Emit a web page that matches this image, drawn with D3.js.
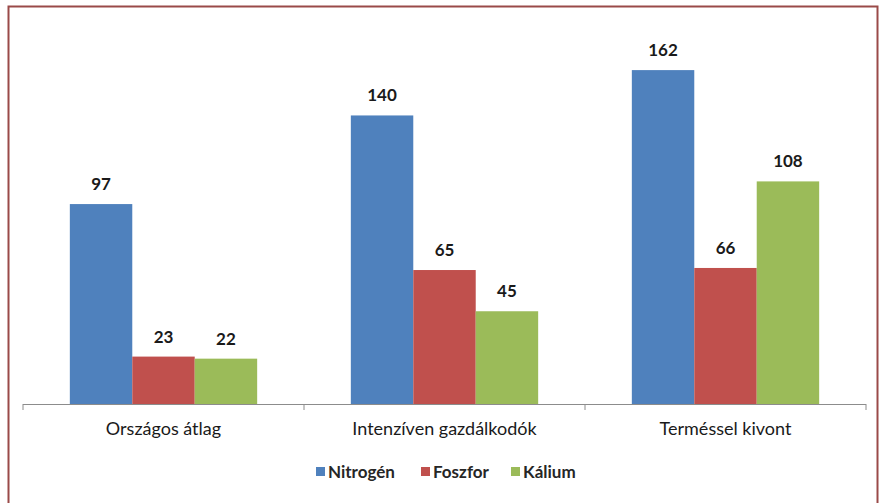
<!DOCTYPE html>
<html><head><meta charset="utf-8">
<script src="https://cdn.jsdelivr.net/npm/d3@7"></script>
<style>body{margin:0;background:#fff;}svg{display:block;font-family:Lato,"Open Sans",sans-serif;}</style>
</head><body><svg id="c" width="880" height="503"></svg>
<script>
const categories = ["Országos átlag", "Intenzíven gazdálkodók", "Terméssel kivont"];
const seriesNames = ["Nitrogén", "Foszfor", "Kálium"];
const nitrogen = [97, 140, 162];
const foszfor = [23, 65, 66];
const kalium = [22, 45, 108];
const colors = ["#4F81BD", "#C0504D", "#9BBB59"];
const values = [nitrogen, foszfor, kalium];

const svg = d3.select("#c");
svg.append("rect").attr("x", 8.5).attr("y", 6.5).attr("width", 869).attr("height", 510)
  .attr("fill", "#fff").attr("stroke", "#9a4a48").attr("stroke-width", 2);

const x0 = d3.scaleBand().domain(categories).range([23, 866]).paddingInner(1/3).paddingOuter(1/6);
const x1 = d3.scaleBand().domain(seriesNames).range([0, x0.bandwidth()]);
const y = d3.scaleLinear().domain([0, 180]).range([404, 33]);

const groups = svg.append("g").selectAll("g").data(categories).join("g")
  .attr("transform", d => `translate(${x0(d)},0)`);
groups.each(function(cat, ci) {
  const g = d3.select(this);
  seriesNames.forEach((s, si) => {
    const v = values[si][ci];
    g.append("rect").attr("x", x1(s)).attr("y", y(v)).attr("width", x1.bandwidth())
      .attr("height", y(0) - y(v)).attr("fill", colors[si]);
    g.append("text").attr("x", x1(s) + x1.bandwidth()/2).attr("y", y(v) - 14)
      .attr("text-anchor", "middle").attr("font-weight", "bold").attr("font-size", 17)
      .attr("fill", "#1a1a1a").text(v);
  });
});

// axis
const axis = svg.append("g");
axis.append("line").attr("x1", 23).attr("x2", 866).attr("y1", 404.5).attr("y2", 404.5)
  .attr("stroke", "#8c8c8c").attr("stroke-width", 1);
const tickX = [23].concat(categories.map(c => x0(c) + x0.bandwidth() + x0.step()*x0.paddingInner()/2));
tickX[3] = 866;
tickX.forEach(t => axis.append("line").attr("x1", t).attr("x2", t).attr("y1", 404).attr("y2", 410)
  .attr("stroke", "#8c8c8c"));
categories.forEach(c => axis.append("text").attr("x", x0(c) + x0.bandwidth()/2).attr("y", 435)
  .attr("text-anchor", "middle").attr("font-size", 18).attr("fill", "#1a1a1a").text(c));

// legend
const legendX = [316, 421, 511];
const leg = svg.append("g");
seriesNames.forEach((s, i) => {
  leg.append("rect").attr("x", legendX[i]).attr("y", 467).attr("width", 9).attr("height", 9).attr("fill", colors[i]);
  leg.append("text").attr("x", legendX[i] + 12).attr("y", 478).attr("font-size", 17).attr("font-weight", "bold")
    .attr("fill", "#262626").text(s);
});
</script></body></html>
